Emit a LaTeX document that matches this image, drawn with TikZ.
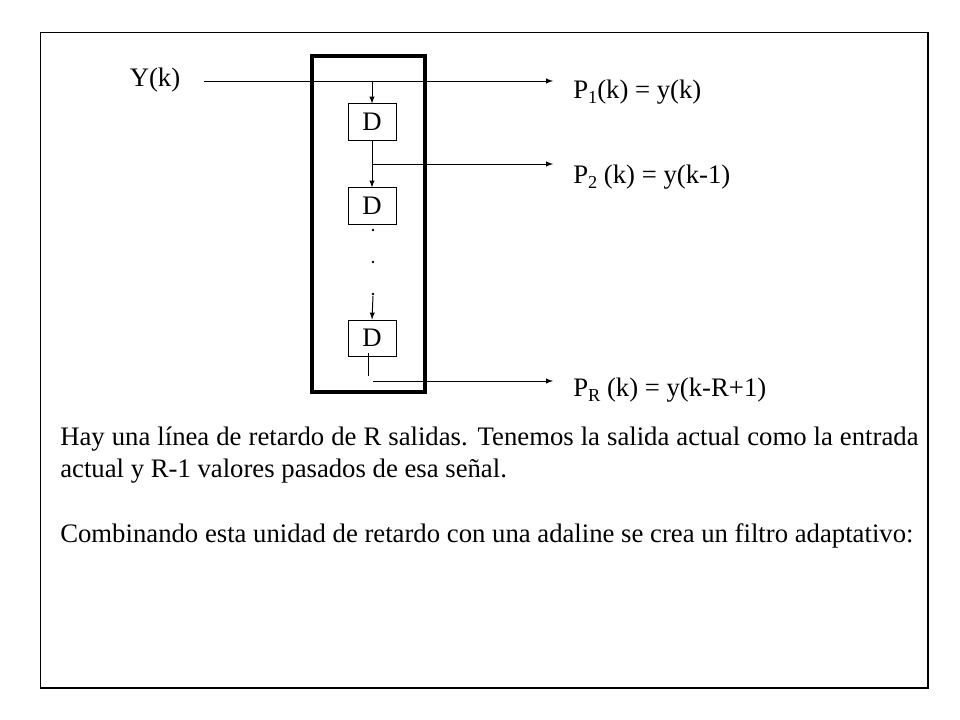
\documentclass[tikz,border=0pt]{standalone}
\usepackage{fontspec}
\setmainfont{Liberation Serif}
\usetikzlibrary{arrows.meta, positioning}
\newcommand{\subi}[1]{\raisebox{-0.45ex}{\fontsize{13}{13}\selectfont #1}}
\tikzset{
    retardo/.style = {draw, line width=0.7pt, minimum width=1.2cm, minimum height=0.9cm, inner sep=0pt},
    etiq/.style = {anchor=west, inner sep=0pt},
    linea/.style = {line width=0.7pt},
    flecha/.style = {line width=0.7pt, -latex}
}

\begin{document}
\begin{tikzpicture}[x=0.025cm, y=-0.025cm, font=\fontsize{19}{22.8}\selectfont]
    % Marco
    \useasboundingbox (0,0) rectangle (960,720);
    \draw[line width=1.4pt] (40.5,32.5) rectangle (928,688);
    \draw[line width=2.8pt] (312,56) rectangle (425,392);
    % Unidades de retardo
    \node[retardo] (D1) at (372,122) {D};
    \node[retardo] (D2) at (372,206) {D};
    \node[retardo] (D3) at (372,338) {D};
    % Entrada y salidas
    \node (Y) at (155,80) {Y(k)};
    \coordinate (ent) at (204,81);
    \coordinate (s1) at (553,81);
    \coordinate (s2) at (553,164);
    \coordinate (sR) at (553,381);
    \coordinate (sal) at (373,381);
    \node[etiq] (P1) at (573,92) {P\subi{1}(k) = y(k)};
    \node[etiq] (P2) at (573,177) {P\subi{2} (k) = y(k-1)};
    \node[etiq] (PR) at (573,390) {P\subi{R} (k) = y(k-R+1)};
    % Conexiones
    \draw[flecha] (ent) -- (s1);
    \draw[flecha] (D1.north |- ent) -- (D1.north);
    \draw[flecha] (D1.south) -- (D2.north);
    \draw[flecha] (D1.south |- s2) -- (s2);
    \foreach \yy in {230,262,294}
        \fill (373,\yy) circle (1pt);
    \draw[flecha] (373,296) -- (D3.north);
    \draw[linea] ([xshift=-0.1cm, yshift=0.08cm]D3.south) -- ++(0,-0.58cm);
    \draw[flecha] (sal) -- (sR);
    % Texto
    \node[anchor=north west, inner sep=0pt, text width=21.45cm, align=justify] (txt1) at (60,427)
        {Hay una línea de retardo de R salidas. Tenemos la salida actual como la entrada\linebreak actual y R-1 valores pasados de esa señal.};
    \node[anchor=north west, inner sep=0pt] (txt2) at (60,523)
        {Combinando esta unidad de retardo con una adaline se crea un filtro adaptativo:};
\end{tikzpicture}
\end{document}
